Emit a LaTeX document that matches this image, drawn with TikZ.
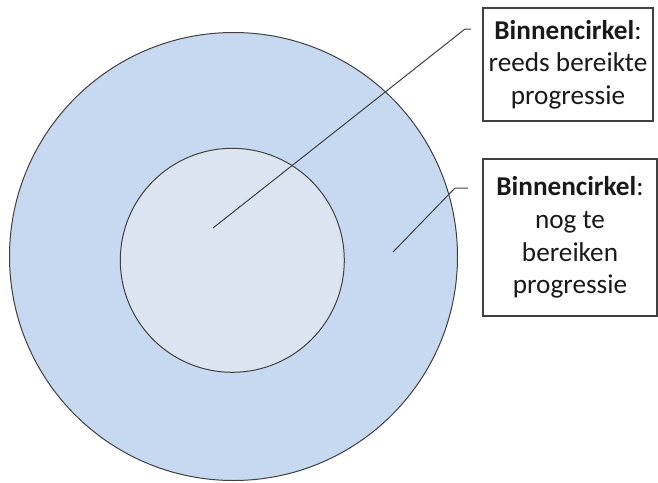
\documentclass[tikz,border=0pt]{standalone}
\usepackage{fontspec}
\setmainfont{Carlito}
\definecolor{outerblue}{HTML}{C6D9F0}
\definecolor{innerblue}{HTML}{DBE5F1}
\definecolor{edgegray}{HTML}{404040}
\begin{document}
\begin{tikzpicture}[x=1pt,y=-1pt,
  ring/.style={circle,draw=edgegray,line width=1pt,inner sep=0pt,outer sep=0pt},
  infobox/.style={draw=edgegray,line width=1.1pt,fill=white,align=center,inner sep=0pt,
    text=black!90,font=\fontsize{27.2}{32.7}\selectfont},
  leader/.style={draw=edgegray,line width=1pt}]
\useasboundingbox (0,0) rectangle (658,482);
\node[ring,fill=outerblue,minimum size=448pt] (outer) at (233.5,256.5) {};
\node[ring,fill=innerblue,minimum size=224pt] (inner) at (232.3,260.3) {};
\node[infobox,minimum width=170pt,minimum height=113pt] (b1) at (568,64.5)
  {\textbf{Binnencirkel}:\\reeds bereikte\\progressie};
\node[infobox,minimum width=174pt,minimum height=157pt] (b2) at (570,237.5)
  {\textbf{Binnencirkel}:\\nog te\\bereiken\\progressie};
\coordinate (s1) at (213,228);
\coordinate (k1) at (465,29);
\coordinate (e1) at (471,29);
\coordinate (s2) at (393,252);
\coordinate (k2) at (455,188);
\coordinate (e2) at (468,188);
\draw[leader] (s1) -- (k1) -- (e1);
\draw[leader] (s2) -- (k2) -- (e2);
\end{tikzpicture}
\end{document}
